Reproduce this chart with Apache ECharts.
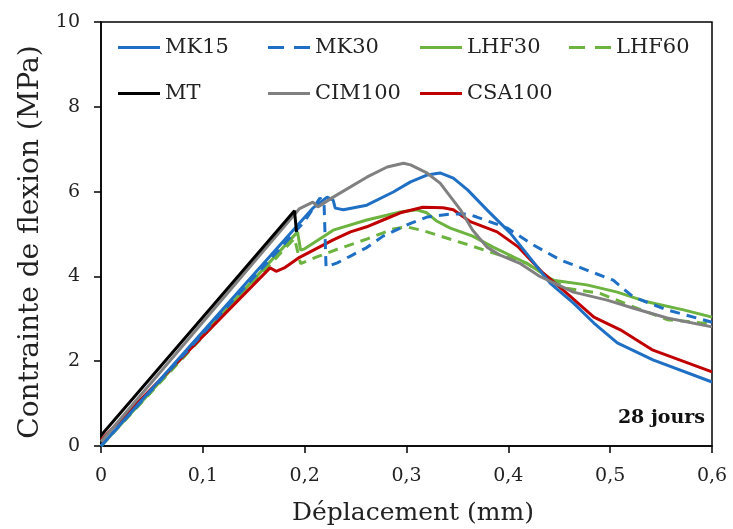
<!DOCTYPE html>
<html><head><meta charset="utf-8">
<script src="https://cdn.jsdelivr.net/npm/echarts@6/dist/echarts.min.js"></script>
<style>html,body{margin:0;padding:0;background:#fff}#c{width:733px;height:529px}</style>
</head><body><div id="c"></div>
<script>
// ---- data ----
const xTickLabels = ['0','0,1','0,2','0,3','0,4','0,5','0,6'];
const yTickLabels = ['0','2','4','6','8','10'];

const MK15_x = [0, 0.195, 0.208, 0.222, 0.228, 0.23, 0.238, 0.261, 0.287, 0.304, 0.32, 0.333, 0.346, 0.36, 0.379, 0.402, 0.441, 0.464, 0.484, 0.507, 0.542, 0.6];
const MK15_y = [0, 5.26, 5.61, 5.87, 5.8, 5.61, 5.57, 5.68, 5.99, 6.23, 6.39, 6.44, 6.32, 6.04, 5.57, 5.02, 3.84, 3.37, 2.9, 2.43, 2.03, 1.51];

const MK30_x = [0, 0.2, 0.215, 0.219, 0.221, 0.232, 0.245, 0.261, 0.277, 0.304, 0.32, 0.343, 0.36, 0.369, 0.399, 0.424, 0.451, 0.477, 0.503, 0.523, 0.556, 0.6];
const MK30_y = [0, 5.3, 5.85, 5.75, 4.22, 4.32, 4.48, 4.68, 4.95, 5.25, 5.4, 5.47, 5.47, 5.4, 5.14, 4.75, 4.39, 4.15, 3.91, 3.51, 3.21, 2.92];

const LHF30_x = [0, 0.193, 0.196, 0.2, 0.228, 0.261, 0.294, 0.31, 0.32, 0.33, 0.343, 0.365, 0.385, 0.418, 0.444, 0.477, 0.507, 0.536, 0.572, 0.6];
const LHF30_y = [0, 5.05, 4.62, 4.65, 5.09, 5.33, 5.52, 5.57, 5.5, 5.3, 5.14, 4.95, 4.69, 4.31, 3.91, 3.8, 3.63, 3.4, 3.21, 3.04];

const LHF60_x = [0, 0.19, 0.196, 0.212, 0.232, 0.261, 0.287, 0.3, 0.316, 0.336, 0.36, 0.379, 0.418, 0.457, 0.49, 0.523, 0.556, 0.6];
const LHF60_y = [0, 4.9, 4.3, 4.46, 4.64, 4.88, 5.12, 5.17, 5.08, 4.93, 4.75, 4.6, 4.31, 3.72, 3.6, 3.28, 2.98, 2.88];

const MT_x = [0, 0.19, 0.192];
const MT_y = [0.25, 5.55, 5.05];

const CIM100_x = [0, 0.195, 0.208, 0.213, 0.228, 0.261, 0.281, 0.297, 0.304, 0.32, 0.333, 0.353, 0.365, 0.379, 0.392, 0.412, 0.431, 0.464, 0.497, 0.523, 0.556, 0.6];
const CIM100_y = [0.1, 5.6, 5.75, 5.64, 5.87, 6.34, 6.58, 6.67, 6.63, 6.44, 6.2, 5.57, 5.09, 4.69, 4.5, 4.3, 4.0, 3.63, 3.44, 3.25, 3.02, 2.81];

const CSA100_x = [0, 0.166, 0.172, 0.18, 0.195, 0.228, 0.245, 0.261, 0.277, 0.294, 0.316, 0.336, 0.346, 0.362, 0.389, 0.41, 0.434, 0.457, 0.484, 0.51, 0.542, 0.6];
const CSA100_y = [0.14, 4.2, 4.12, 4.2, 4.45, 4.86, 5.05, 5.17, 5.33, 5.5, 5.63, 5.62, 5.57, 5.3, 5.05, 4.69, 4.08, 3.61, 3.04, 2.74, 2.26, 1.75];

const xAxisTitle = 'Déplacement (mm)';
const yAxisTitle = 'Contrainte de flexion (MPa)';
const annotationText = '28 jours';

// ---- chart ----
const FONT = 'DejaVu Serif';
const SOLID_ICON = 'path://M0,0H42V3H0Z';
const DASH_ICON = 'path://M0,0H16V3H0Z M26,0H42V3H26Z';
const zip = (xs, ys) => xs.map((x, i) => [x, ys[i]]);
const defs = [
  {name:'MK15',  x:MK15_x,  y:MK15_y,  color:'#1f6fc5', type:'solid'},
  {name:'MK30',  x:MK30_x,  y:MK30_y,  color:'#1f6fc5', type:[10,7]},
  {name:'LHF30', x:LHF30_x, y:LHF30_y, color:'#6db33f', type:'solid'},
  {name:'LHF60', x:LHF60_x, y:LHF60_y, color:'#6db33f', type:[10,7]},
  {name:'MT',    x:MT_x,    y:MT_y,    color:'#000000', type:'solid'},
  {name:'CIM100',x:CIM100_x,y:CIM100_y,color:'#808080', type:'solid'},
  {name:'CSA100',x:CSA100_x,y:CSA100_y,color:'#c00000', type:'solid'}
];
const drawOrder = ['LHF60','LHF30','CSA100','MK30','MK15','CIM100','MT'];
const series = drawOrder.map(n => {
  const d = defs.find(e => e.name === n);
  return {
    name: d.name, type: 'line', data: zip(d.x, d.y), showSymbol: false, symbol: 'none',
    smooth: false,
    color: d.color, itemStyle: {color: d.color},
    lineStyle: {color: d.color, width: 3, type: d.type}, animation: false, z: 2
  };
});
const legendPos = [
  {name:'MK15', left:118, top:37}, {name:'MK30', left:268, top:37},
  {name:'LHF30', left:420, top:37}, {name:'LHF60', left:569, top:37},
  {name:'MT', left:118, top:83}, {name:'CIM100', left:268, top:83},
  {name:'CSA100', left:420, top:83}
];
const legends = legendPos.map(p => {
  const d = defs.find(e => e.name === p.name);
  return {
    data: [{name: p.name, icon: d.type === 'solid' ? SOLID_ICON : DASH_ICON}],
    left: p.left, top: p.top, itemWidth: 42, itemHeight: 3, itemGap: 0,
    padding: 0, textStyle: {fontFamily: FONT, fontSize: 21, color: '#222'},
    selectedMode: false
  };
});

const chart = echarts.init(document.getElementById('c'), null, {renderer: 'canvas'});
chart.setOption({
  animation: false,
  backgroundColor: '#fff',
  grid: {left: 101, right: 21, top: 22, bottom: 83, show: true, borderColor: '#000', borderWidth: 1.5},
  legend: legends,
  xAxis: {
    type: 'value', min: 0, max: 0.6, interval: 0.1,
    axisLine: {show: true, onZero: false, lineStyle: {color: '#000', width: 1.5}},
    axisTick: {show: true, inside: false, length: 7, lineStyle: {color: '#000', width: 1.5}},
    axisLabel: {fontFamily: FONT, fontSize: 19, color: '#222', margin: 21,
      formatter: v => xTickLabels[Math.round(v * 10)]},
    splitLine: {show: false}
  },
  yAxis: {
    type: 'value', min: 0, max: 10, interval: 2,
    name: yAxisTitle, nameLocation: 'middle', nameGap: 51,
    nameTextStyle: {fontFamily: FONT, fontSize: 28, color: '#222', padding: [0,16,0,0]},
    axisLine: {show: true, lineStyle: {color: '#000', width: 1.5}},
    axisTick: {show: true, inside: false, length: 7, lineStyle: {color: '#000', width: 1.5}},
    axisLabel: {fontFamily: FONT, fontSize: 19, color: '#222', margin: 21,
      formatter: v => yTickLabels[Math.round(v / 2)]},
    splitLine: {show: false}
  },
  graphic: [{
    type: 'text', right: 28, top: 409,
    style: {text: annotationText, fontFamily: FONT, fontSize: 19, fontWeight: 'bold', fill: '#111'}
  }, {
    type: 'text', x: 413, y: 513,
    style: {text: xAxisTitle, fontFamily: FONT, fontSize: 25, fill: '#222', align: 'center', verticalAlign: 'middle'}
  }],
  series: series
});
</script></body></html>
